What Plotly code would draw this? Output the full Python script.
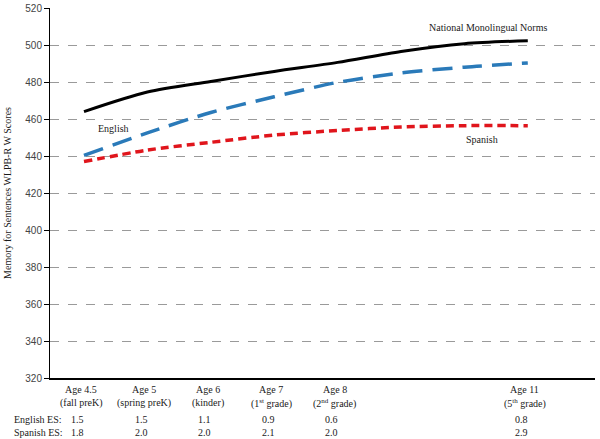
import plotly.graph_objects as go

# categories on the x axis (evenly spaced waves)
ages = ["4.5", "5", "6", "7", "8", "9", "10", "11"]

# W scores
national_norms = [464, 474.6, 480.3, 485.7, 490.6, 496.5, 500.7, 502.3]
english = [440.3, 452.5, 463.5, 472, 479.8, 484.9, 488, 490.3]
spanish = [437, 443.2, 447.4, 451.3, 453.8, 455.7, 456.4, 456.4]

# labels under the axis
label_ages = ["4.5", "5", "6", "7", "8", "11"]
label_grades = ["(fall preK)", "(spring preK)", "(kinder)",
                "(1<sup>st</sup> grade)", "(2<sup>nd</sup> grade)", "(5<sup>th</sup> grade)"]
english_es = ["1.5", "1.5", "1.1", "0.9", "0.6", "0.8"]
spanish_es = ["1.8", "2.0", "2.0", "2.1", "2.0", "2.9"]

serif = "Liberation Serif, Times New Roman, serif"
txt = dict(family=serif, size=10, color="#1a1a1a")

fig = go.Figure()
fig.add_trace(go.Scatter(x=ages, y=national_norms, mode="lines", name="National Monolingual Norms",
                         line=dict(color="black", width=3, shape="spline", smoothing=0.8)))
fig.add_trace(go.Scatter(x=ages, y=english, mode="lines", name="English",
                         line=dict(color="#2a7ab9", width=3.5, dash="20px,10px", shape="spline", smoothing=0.8)))
fig.add_trace(go.Scatter(x=ages, y=spanish, mode="lines", name="Spanish",
                         line=dict(color="#e0151c", width=3.5, dash="8px,5px", shape="spline", smoothing=0.8)))

# series labels (x given as category index)
annotations = [
    dict(x=6.37, y=509.7, text="National Monolingual Norms"),
    dict(x=0.47, y=454.8, text="English"),
    dict(x=6.28, y=448.8, text="Spanish"),
]
for a in annotations:
    a.update(xref="x", yref="y", showarrow=False, font=txt)

# age / grade / effect size rows below the plot
for i, age in enumerate(label_ages):
    pos = ages.index(age)
    rows = [("Age " + age, -0.03, 0), (label_grades[i], -0.068, 0),
            (english_es[i], -0.111, -3), (spanish_es[i], -0.146, -3)]
    for text, yy, dx in rows:
        annotations.append(dict(x=pos, y=yy, xref="x", yref="paper", text=text, showarrow=False,
                                xshift=dx - 3, yanchor="middle", font=txt))

for text, yy in [("English ES:", -0.111), ("Spanish ES:", -0.146)]:
    annotations.append(dict(x=-0.07, y=yy, xref="paper", yref="paper", text=text, xanchor="left",
                            showarrow=False, yanchor="middle", font=txt))

fig.update_layout(
    width=600, height=439,
    margin=dict(l=50, r=5, t=8, b=61),
    plot_bgcolor="white", paper_bgcolor="white",
    showlegend=False,
    annotations=annotations,
    xaxis=dict(type="category", range=[-0.536, 8.06], showticklabels=False, showgrid=False,
               showline=True, linecolor="black", linewidth=1.5, ticks="", zeroline=False,
               automargin=False),
    yaxis=dict(range=[320, 520], dtick=20, showgrid=True, gridcolor="#9a9a9a", griddash="dash",
               gridwidth=1, showline=True, linecolor="black", linewidth=1, ticks="outside",
               ticklen=5, tickcolor="black", zeroline=False, automargin=False,
               tickfont=dict(family="Liberation Sans, Arial, sans-serif", size=10, color="#444"),
               title=dict(text="Memory for Sentences WLPB-R W Scores", standoff=11,
                          font=dict(family=serif, size=10, color="#1a1a1a"))),
)

# the page body has a default 8px margin; drop it so the figure sits at the window corner
fig.write_html("out.html", config={"displayModeBar": False},
               post_script="document.body.style.margin = '0';")
